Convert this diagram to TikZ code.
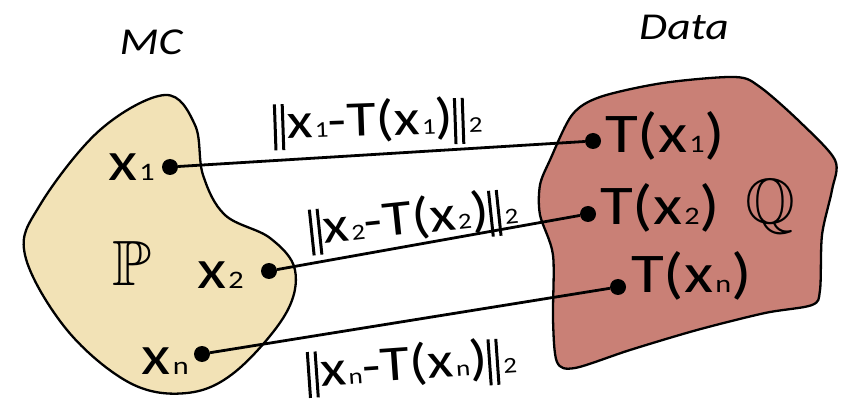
\documentclass[tikz,border=0pt]{standalone}
\usepackage{fontspec}
\setmainfont{Carlito}
\usepackage{amssymb}
\definecolor{mcbeige}{HTML}{F2E2B6}
\definecolor{datared}{HTML}{C98076}
% the drawing's lettering is wider than Carlito
\newcommand{\wide}[1]{\scalebox{1.2}[1]{#1}}
% small index sitting on the baseline
\newcommand{\ssub}[1]{\kern0.03em\scalebox{0.45}{#1}}
\newcommand{\xs}[1]{x\ssub{#1}}
% thin double bar of the norm
\newcommand{\nrm}{\rule[-0.22em]{0.05em}{0.92em}\kern0.08em\rule[-0.22em]{0.05em}{0.92em}\kern0.04em}

\begin{document}
\begin{tikzpicture}[x=1pt, y=-1pt,
  blob/.style={draw=black, line width=2.3pt},
  dot/.style={circle, fill=black, inner sep=0pt, minimum size=16pt},
  link/.style={black, line width=2.8pt},
  ptlab/.style={font=\fontsize{56}{60}\selectfont, inner sep=0pt},
  distlab/.style={font=\fontsize{50}{54}\selectfont, inner sep=0pt},
  setlab/.style={inner sep=0pt},
  ttl/.style={font=\fontsize{38}{42}\selectfont\itshape, inner sep=0pt}]

\useasboundingbox (0,0) rectangle (843,403);

%% the two sets
% MC samples
\fill[mcbeige] plot[smooth cycle, tension=0.6] coordinates {
  (165,95) (195,125) (203,175) (225,215) (270,238) (295,270)
  (285,315) (235,372) (187,393) (130,383) (67,330) (25,255)
  (40,205) (100,130)};
\draw[blob] plot[smooth cycle, tension=0.6] coordinates {
  (165,95) (195,125) (203,175) (225,215) (270,238) (295,270)
  (285,315) (235,372) (187,393) (130,383) (67,330) (25,255)
  (40,205) (100,130)};

% data
\fill[datared] plot[smooth cycle, tension=0.5] coordinates {
  (550,160) (572,115) (600,97) (663,83) (735,77) (760,87)
  (800,122) (835,160) (832,190) (822,235) (820,290) (812,305)
  (765,313) (697,330) (630,350) (575,368) (557,362) (553,320)
  (553,255) (540,215) (540,185)};
\draw[blob] plot[smooth cycle, tension=0.5] coordinates {
  (550,160) (572,115) (600,97) (663,83) (735,77) (760,87)
  (800,122) (835,160) (832,190) (822,235) (820,290) (812,305)
  (765,313) (697,330) (630,350) (575,368) (557,362) (553,320)
  (553,255) (540,215) (540,185)};

\node[ttl] (mc) at (151,42) {\wide{MC}};
\node[ttl] (data) at (684,27) {\wide{Data}};
\node[setlab] (P) at (132,263) {\scalebox{6.4}{$\mathbb{P}$}};
\node[setlab] (Q) at (770,207) {\scalebox{6.4}{$\mathbb{Q}$}};

%% sample points and their images
\node[dot] (x1) at (170,167) {};
\node[dot] (x2) at (269,271) {};
\node[dot] (xn) at (202,354) {};
\node[dot] (t1) at (593,141) {};
\node[dot] (t2) at (588,214) {};
\node[dot] (tn) at (618,287) {};

\node[ptlab, anchor=base east] (lx1) at (155,181) {\wide{\xs{1}}};
\node[ptlab, anchor=base east] (lx2) at (244,288) {\wide{\xs{2}}};
\node[ptlab, anchor=base east] (lxn) at (189,374) {\wide{\xs{n}}};
\node[ptlab, anchor=base west] (lt1) at (605,153) {\wide{T(\xs{1})}};
\node[ptlab, anchor=base west] (lt2) at (600,225) {\wide{T(\xs{2})}};
\node[ptlab, anchor=base west] (ltn) at (631,293) {\wide{T(\xs{n})}};

% transport links
\draw[link] (x1) -- (t1);
\draw[link] (x2) -- (t2);
\draw[link] (xn) -- (tn);

% costs along the links
\node[distlab, rotate=2] (d1) at (378,123) {\wide{\nrm\xs{1}-T(\xs{1})\nrm\ssub{2}}};
\node[distlab, rotate=6] (d2) at (414,221) {\wide{\nrm\xs{2}-T(\xs{2})\nrm\ssub{2}}};
\node[distlab, rotate=4] (dn) at (412,367) {\wide{\nrm\xs{n}-T(\xs{n})\nrm\ssub{2}}};

\end{tikzpicture}
\end{document}
